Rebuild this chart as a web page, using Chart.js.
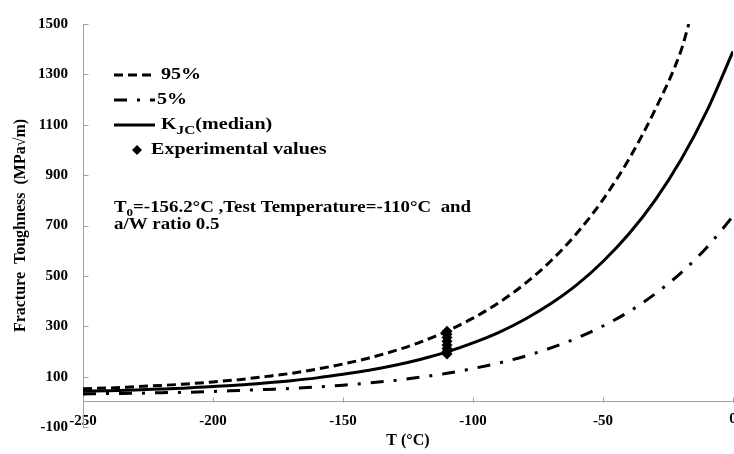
<!DOCTYPE html>
<html>
<head>
<meta charset="utf-8">
<script src="https://cdn.jsdelivr.net/npm/chart.js@4/dist/chart.umd.min.js"></script>
<style>
  html, body { margin: 0; padding: 0; background: #ffffff; }
  #wrap { width: 734px; height: 454px; }
</style>
</head>
<body>
<div id="wrap"><canvas id="c" width="734" height="454"></canvas></div>
<script>
// Temperatures (°C) for the master-curve bands
const temps = [-250, -240, -230, -220, -210, -200, -190, -180, -170, -160, -150, -140, -130,
               -120, -110, -100, -90, -80, -70, -60, -50, -40, -30, -20, -10, 0];
// Median fracture toughness K_JC (MPa√m)
const kjcMedian = [42, 44, 47, 51, 55, 61, 67, 75, 84, 95, 109, 125, 145,
                   169, 198, 234, 276, 328, 390, 465, 557, 667, 800, 961, 1156, 1391];
// 5 % lower tolerance bound
const kjcLower5 = [31, 33, 34, 36, 38, 41, 45, 49, 53, 59, 66, 75, 85,
                   98, 113, 132, 154, 181, 214, 253, 301, 358, 428, 512, 614, 737];
// 95 % upper tolerance bound (leaves the plot at the 1500 ceiling)
const tempsUpper = [-250, -240, -230, -220, -210, -200, -190, -180, -170, -160, -150, -140, -130,
                    -120, -110, -100, -90, -80, -70, -60, -50, -40, -30, -20, -17];
const kjcUpper95 = [52, 55, 60, 65, 71, 79, 88, 100, 113, 130, 150, 174, 203,
                    238, 281, 332, 394, 469, 560, 670, 803, 964, 1159, 1394, 1500];
// Measured specimens at the test temperature
const testTemps  = [-110, -110, -110, -110, -110, -110, -110, -110];
const testValues = [190, 200, 212, 226, 240, 255, 268, 280];
// Axis tick labels
const xTicks = [-250, -200, -150, -100, -50, 0];
const yTicks = [-100, 100, 300, 500, 700, 900, 1100, 1300, 1500];

const AXIS_GREY = '#a0a0a0';
const SERIF = "'Liberation Serif', 'Times New Roman', serif";
const TICK_SIZE = 15;
const X_LABEL_GAP = 10;

const pts = (xs, ys) => xs.map((x, i) => ({ x: x, y: ys[i] }));

function stretchedText(ctx, text, x, y, size, sx) {
  ctx.save();
  ctx.font = 'bold ' + size + 'px ' + SERIF;
  ctx.translate(x, y);
  ctx.scale(sx, 1);
  ctx.fillText(text, 0, 0);
  const w = ctx.measureText(text).width * sx;
  ctx.restore();
  return w;
}

// Inward tick marks on both axes, plus the label of the last x tick,
// which sits on the right edge of the canvas
const innerTicks = {
  id: 'innerTicks',
  afterDraw(chart) {
    const ctx = chart.ctx;
    const xs = chart.scales.x, ys = chart.scales.y;
    const y0 = Math.round(ys.getPixelForValue(0)) + 0.5;
    const x0 = Math.round(xs.getPixelForValue(xTicks[0])) + 0.5;
    ctx.save();
    ctx.strokeStyle = AXIS_GREY;
    ctx.lineWidth = 1;
    ctx.beginPath();
    xTicks.forEach(v => {
      const px = Math.round(xs.getPixelForValue(v)) + 0.5;
      ctx.moveTo(px, y0);
      ctx.lineTo(px, y0 - 5);
    });
    yTicks.forEach(v => {
      const py = Math.round(ys.getPixelForValue(v)) + 0.5;
      ctx.moveTo(x0, py);
      ctx.lineTo(x0 + 5, py);
    });
    ctx.stroke();

    const last = xTicks[xTicks.length - 1];
    ctx.fillStyle = '#000';
    ctx.font = 'bold ' + TICK_SIZE + 'px ' + SERIF;
    ctx.textAlign = 'center';
    ctx.textBaseline = 'top';
    ctx.fillText(String(last), xs.getPixelForValue(last), ys.getPixelForValue(0) + X_LABEL_GAP);
    ctx.restore();
  }
};

// Key and test-condition note inside the plot
const keyAndNote = {
  id: 'keyAndNote',
  afterDraw(chart) {
    const ctx = chart.ctx;
    const sx = 1.18;
    ctx.save();
    ctx.fillStyle = '#000';
    ctx.strokeStyle = '#000';
    ctx.textBaseline = 'middle';
    ctx.textAlign = 'left';

    const sample = (y, dash) => {
      ctx.save();
      ctx.lineWidth = 3;
      ctx.setLineDash(dash);
      ctx.beginPath();
      ctx.moveTo(114, y);
      ctx.lineTo(155, y);
      ctx.stroke();
      ctx.restore();
    };

    sample(75, [9, 5]);
    stretchedText(ctx, '95%', 161, 75, 17, sx);

    sample(100, [13, 10, 3, 10]);
    stretchedText(ctx, '5%', 157, 100, 17, sx);

    sample(125, []);
    let x = 161;
    x += stretchedText(ctx, 'K', x, 125, 17, sx);
    x += stretchedText(ctx, 'JC', x, 131, 13, sx);
    stretchedText(ctx, '(median)', x, 125, 17, sx);

    // diamond marker
    ctx.beginPath();
    ctx.moveTo(137, 145); ctx.lineTo(142, 150); ctx.lineTo(137, 155); ctx.lineTo(132, 150);
    ctx.closePath();
    ctx.fill();
    stretchedText(ctx, 'Experimental values', 151, 150, 17, sx);

    x = 114;
    x += stretchedText(ctx, 'T', x, 208, 16, sx);
    x += stretchedText(ctx, '0', x, 213, 11, sx);
    stretchedText(ctx, '=-156.2°C ,Test Temperature=-110°C  and', x, 208, 16, sx);
    stretchedText(ctx, 'a/W ratio 0.5', 114, 225, 16, sx);
    ctx.restore();
  }
};

const tickFont = { family: SERIF, size: TICK_SIZE, weight: 'bold' };
const plainNumber = v => String(v);
// the last x label is painted by the plugin above so the plot can reach the edge
const xLabel = v => (v === xTicks[xTicks.length - 1] ? '' : String(v));

new Chart(document.getElementById('c'), {
  type: 'line',
  data: {
    datasets: [
      {
        label: 'Experimental values',
        data: pts(testTemps, testValues),
        showLine: false,
        pointStyle: 'rectRot',
        pointRadius: 5.5,
        backgroundColor: '#000',
        borderColor: '#000',
        borderWidth: 0,
        order: 0
      },
      {
        label: '95%',
        data: pts(tempsUpper, kjcUpper95),
        borderColor: '#000',
        borderWidth: 3,
        borderDash: [9, 5],
        pointRadius: 0,
        cubicInterpolationMode: 'monotone',
        fill: false,
        order: 1
      },
      {
        label: '5%',
        data: pts(temps, kjcLower5),
        borderColor: '#000',
        borderWidth: 3,
        borderDash: [13, 10, 3, 10],
        pointRadius: 0,
        cubicInterpolationMode: 'monotone',
        fill: false,
        order: 2
      },
      {
        label: 'KJC(median)',
        data: pts(temps, kjcMedian),
        borderColor: '#000',
        borderWidth: 3,
        pointRadius: 0,
        cubicInterpolationMode: 'monotone',
        fill: false,
        order: 3
      }
    ]
  },
  options: {
    responsive: false,
    animation: false,
    devicePixelRatio: 1,
    layout: { autoPadding: false, padding: { top: 15, right: 1, bottom: 27, left: 0 } },
    plugins: { legend: { display: false }, tooltip: { enabled: false } },
    scales: {
      x: {
        type: 'linear',
        min: -250,
        max: 0,
        position: { y: 0 },
        grid: { display: false, drawTicks: false },
        border: { display: true, color: AXIS_GREY, width: 1 },
        ticks: { font: tickFont, color: '#000', padding: X_LABEL_GAP, autoSkip: false, maxRotation: 0, callback: xLabel },
        afterBuildTicks: s => { s.ticks = xTicks.map(v => ({ value: v })); },
        afterFit: s => { s.paddingLeft = 0; s.paddingRight = 0; },
        title: {
          display: true,
          text: 'T (°C)',
          color: '#000',
          font: { family: SERIF, size: 16, weight: 'bold' },
          padding: { top: -9, bottom: 0 }
        }
      },
      y: {
        type: 'linear',
        min: -100,
        max: 1500,
        position: 'left',
        grid: { display: false, drawTicks: false },
        border: { display: true, color: AXIS_GREY, width: 1 },
        ticks: { font: tickFont, color: '#000', padding: 15, autoSkip: false, callback: plainNumber },
        afterBuildTicks: s => { s.ticks = yTicks.map(v => ({ value: v })); },
        afterFit: s => { s.width = 83; },
        title: {
          display: true,
          text: 'Fracture  Toughness  (MPa√m)',
          color: '#000',
          font: { family: SERIF, size: 16, weight: 'bold' },
          padding: { top: 11, bottom: 0 }
        }
      }
    }
  },
  plugins: [innerTicks, keyAndNote]
});
</script>
</body>
</html>
